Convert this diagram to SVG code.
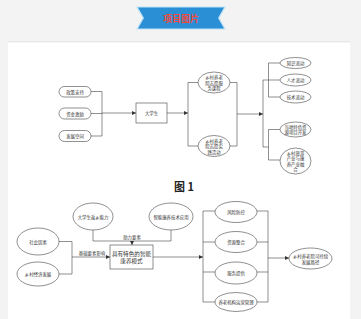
<svg xmlns="http://www.w3.org/2000/svg" width="361" height="319" viewBox="0 0 361 319">
<defs>
<marker id="ah" viewBox="0 0 6 6" refX="6" refY="3" markerWidth="4" markerHeight="4" orient="auto" markerUnits="userSpaceOnUse">
<path d="M0,0 L6,3 L0,6 z" fill="#333"/>
</marker>
<style>
.sh{fill:#fff;stroke:#444;stroke-width:0.6}
.ln{fill:none;stroke:#444;stroke-width:0.6}
.ar{fill:none;stroke:#444;stroke-width:0.6;marker-end:url(#ah)}
.t{font-family:"Noto Sans CJK SC","Noto Sans",sans-serif;fill:#333;text-anchor:middle;dominant-baseline:central}
.s{font-size:4.4px}
.m{font-size:5px}
.b{font-size:5.6px}
</style>
</defs>
<rect width="361" height="319" fill="#f3f3f3"/>
<rect x="8" y="42" width="342" height="277" fill="#fff"/>
<line x1="8" y1="41.8" x2="350" y2="41.8" stroke="#e2e2e2" stroke-width="1"/>
<g id="banner">
<polygon points="136,6.5 226,6.5 219.5,18 226,29.5 136,29.5 142.5,18" fill="#bfe3f7"/>
<polygon points="138,7.5 224,7.5 218,18 224,28.5 138,28.5 144,18" fill="#2a8fd4"/>
<text x="181" y="18" class="t" style="font-size:9px;font-weight:bold;fill:#ee4a3e">项目图片</text>
</g>
<g id="connectors">
<path class="ln" d="M91,91.5 H102 V136 H91 M102,113.5 H91"/>
<path class="ar" d="M102,113 H136"/>
<path class="ar" d="M167,113 H188"/>
<path class="ln" d="M198,82.5 H188 V146 H198"/>
<path class="ln" d="M230,82.5 H237 V146 H230"/>
<path class="ar" d="M237,114 H263"/>
<path class="ln" d="M263,80 V147"/>
<path class="ln" d="M280,63 H268.5 V97 H280 M263,80 H280"/>
<path class="ln" d="M280,129.5 H268.5 V160 H280 M263,147 H268.5"/>
<path class="ln" d="M93,230 V241 H171 V230"/>
<path class="ar" d="M132,241 V245"/>
<path class="ln" d="M59,241.5 H72 V274 H59"/>
<path class="ar" d="M72,257 H110"/>
<path class="ar" d="M153,257 H203"/>
<path class="ln" d="M215,211 H203 V302 H215 M203,242 H215 M203,272 H215"/>
<path class="ln" d="M257,211 H268 V302 H257 M257,242 H268 M257,272 H268"/>
<path class="ar" d="M268,258 H289"/>
<text x="132" y="237" class="t s">助力要素</text>
<text x="92" y="252.5" class="t s">基础要素影响</text>
</g>
<g id="n-zhengce"><rect class="sh" x="59" y="86.5" width="32" height="10.5" rx="5.25"/><text x="75" y="91.8" class="t s">政策支持</text></g>
<g id="n-zijin"><rect class="sh" x="59" y="108" width="32" height="11" rx="5.5"/><text x="75" y="113.5" class="t s">资金激励</text></g>
<g id="n-fazhan"><rect class="sh" x="59" y="130.5" width="32" height="11" rx="5.5"/><text x="75" y="136" class="t s">发展空间</text></g>
<g id="n-daxuesheng"><rect class="sh" x="136" y="103" width="31" height="20"/><text x="151.5" y="113" class="t s">大学生</text></g>
<g id="n-kecheng"><ellipse class="sh" cx="214" cy="82.5" rx="16" ry="10.5"/><text x="214" y="77" class="t s">乡村养老</text><text x="214" y="82.5" class="t s">院志愿服</text><text x="214" y="88" class="t s">务课程</text></g>
<g id="n-shijian"><ellipse class="sh" cx="214" cy="146" rx="16" ry="10.5"/><text x="214" y="140.5" class="t s">乡村养老</text><text x="214" y="146" class="t s">院志愿实</text><text x="214" y="151.5" class="t s">践活动</text></g>
<g id="n-zhishi"><ellipse class="sh" cx="295.5" cy="63" rx="15.5" ry="5.5"/><text x="295.5" y="63" class="t s">知识流动</text></g>
<g id="n-rencai"><ellipse class="sh" cx="295.5" cy="80" rx="15.5" ry="6"/><text x="295.5" y="80" class="t s">人才流动</text></g>
<g id="n-jishu"><ellipse class="sh" cx="295.5" cy="97" rx="15.5" ry="6"/><text x="295.5" y="97" class="t s">技术流动</text></g>
<g id="n-tese"><ellipse class="sh" cx="295.5" cy="129.5" rx="15.5" ry="7.5"/><text x="295.5" y="126.8" class="t s">当地特色资</text><text x="295.5" y="132.3" class="t s">源项目开发</text></g>
<g id="n-lvyou"><ellipse class="sh" cx="295.5" cy="161" rx="15.5" ry="13"/><text x="295.5" y="152.8" class="t s">乡村旅游</text><text x="295.5" y="158.3" class="t s">产业与康</text><text x="295.5" y="163.8" class="t s">养产业融</text><text x="295.5" y="169.3" class="t s">合</text></g>
<text x="184" y="186" class="t" style="font-size:11px;font-weight:bold;fill:#222">图 1</text>
<g id="n-fanxiang"><ellipse class="sh" cx="93" cy="216.5" rx="20" ry="13.5"/><text x="93" y="216.5" class="t s">大学生返乡能力</text></g>
<g id="n-zhineng"><ellipse class="sh" cx="171" cy="216.5" rx="22" ry="13.5"/><text x="171" y="216.5" class="t s">智能康养技术应用</text></g>
<g id="n-shehui"><ellipse class="sh" cx="38" cy="241.5" rx="21" ry="13.5"/><text x="38" y="241.5" class="t s">社会因素</text></g>
<g id="n-jingji"><ellipse class="sh" cx="38" cy="274" rx="21" ry="12"/><text x="38" y="274" class="t s">乡村经济发展</text></g>
<g id="n-moshi"><rect class="sh" x="110" y="245" width="43" height="24"/><text x="131.5" y="253.5" class="t b">具有特色的智能</text><text x="131.5" y="261" class="t b">康养模式</text></g>
<g id="n-fengxian"><ellipse class="sh" cx="236" cy="212" rx="21" ry="10.5"/><text x="236" y="212" class="t s">风险防控</text></g>
<g id="n-ziyuan"><ellipse class="sh" cx="236" cy="242" rx="21" ry="10.5"/><text x="236" y="242" class="t s">资源整合</text></g>
<g id="n-fuwu"><ellipse class="sh" cx="236" cy="273" rx="21" ry="11"/><text x="236" y="273" class="t s">服务提供</text></g>
<g id="n-yunying"><ellipse class="sh" cx="236" cy="302" rx="21" ry="9.5"/><text x="236" y="302" class="t s">养老机构运营管理</text></g>
<g id="n-lujing"><ellipse class="sh" cx="310.5" cy="258.5" rx="21.5" ry="10.5"/><text x="310.5" y="255.5" class="t s">乡村养老院可持续</text><text x="310.5" y="261.5" class="t s">发展路径</text></g>
</svg>
